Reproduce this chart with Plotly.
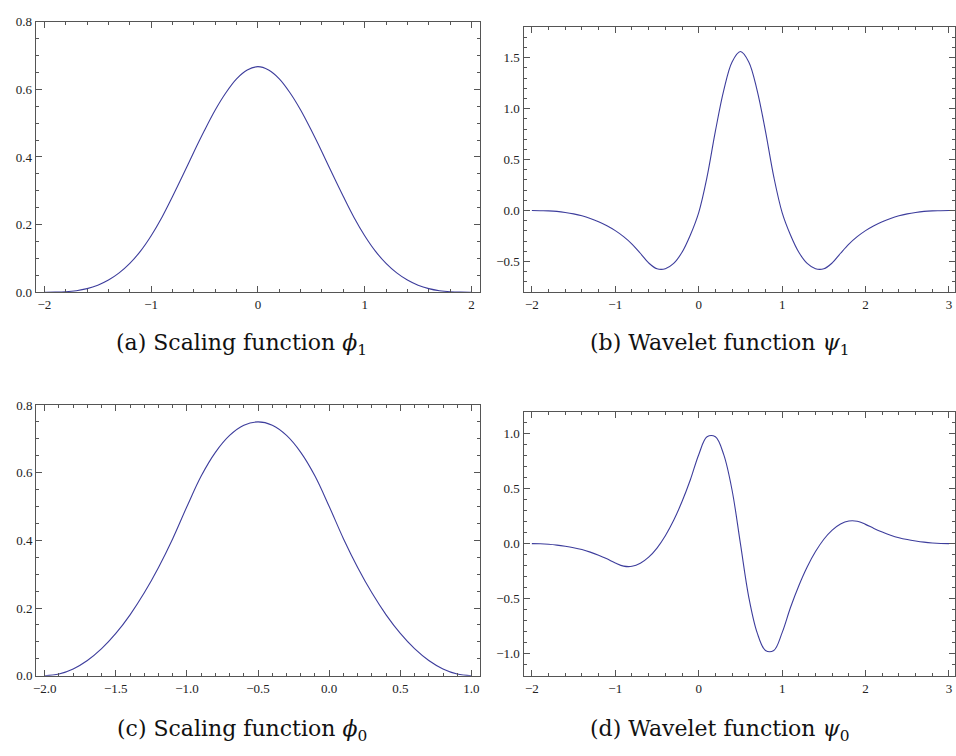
import plotly.graph_objects as go

# ---------------- data ----------------
# (a) scaling function phi_1
x_phi1 = [-2.0, -1.9, -1.8, -1.7, -1.6, -1.5, -1.4, -1.3, -1.2, -1.1, -1.0,
          -0.9, -0.8, -0.7, -0.6, -0.5, -0.4, -0.3, -0.2, -0.1, 0.0,
          0.1, 0.2, 0.3, 0.4, 0.5, 0.6, 0.7, 0.8, 0.9, 1.0,
          1.1, 1.2, 1.3, 1.4, 1.5, 1.6, 1.7, 1.8, 1.9, 2.0]
y_phi1 = [0.0, 0.0002, 0.0013, 0.0045, 0.0107, 0.0208, 0.036, 0.0572, 0.0853, 0.1215, 0.167,
          0.221, 0.283, 0.348, 0.415, 0.479, 0.539, 0.590, 0.631, 0.657, 0.667,
          0.657, 0.631, 0.590, 0.539, 0.479, 0.415, 0.348, 0.283, 0.221, 0.167,
          0.1215, 0.0853, 0.0572, 0.036, 0.0208, 0.0107, 0.0045, 0.0013, 0.0002, 0.0]

# (b) wavelet function psi_1
x_psi1 = [-2.0, -1.9, -1.8, -1.7, -1.6, -1.5, -1.4, -1.3, -1.2, -1.1, -1.0,
          -0.9, -0.8, -0.7, -0.6, -0.5, -0.4, -0.3, -0.2, -0.1, 0.0,
          0.1, 0.2, 0.3, 0.4, 0.5, 0.6, 0.7, 0.8, 0.9, 1.0,
          1.1, 1.2, 1.3, 1.4, 1.5, 1.6, 1.7, 1.8, 1.9, 2.0,
          2.1, 2.2, 2.3, 2.4, 2.5, 2.6, 2.7, 2.8, 2.9, 3.0]
y_psi1 = [0.0, -0.002, -0.004, -0.009, -0.019, -0.033, -0.052, -0.078, -0.111, -0.150, -0.198,
          -0.257, -0.330, -0.420, -0.515, -0.572, -0.572, -0.52, -0.41, -0.24, -0.02,
          0.33, 0.78, 1.18, 1.46, 1.562, 1.46, 1.18, 0.78, 0.33, -0.02,
          -0.24, -0.41, -0.52, -0.572, -0.572, -0.515, -0.420, -0.330, -0.257, -0.198,
          -0.150, -0.111, -0.078, -0.052, -0.033, -0.019, -0.009, -0.004, -0.002, 0.0]

# (c) scaling function phi_0
x_phi0 = [-2.0, -1.9, -1.8, -1.7, -1.6, -1.5, -1.4, -1.3, -1.2, -1.1, -1.0,
          -0.9, -0.8, -0.7, -0.6, -0.5, -0.4, -0.3, -0.2, -0.1, 0.0,
          0.1, 0.2, 0.3, 0.4, 0.5, 0.6, 0.7, 0.8, 0.9, 1.0]
y_phi0 = [0.0, 0.005, 0.02, 0.045, 0.08, 0.125, 0.18, 0.245, 0.32, 0.405, 0.5,
          0.59, 0.66, 0.71, 0.74, 0.75, 0.74, 0.71, 0.66, 0.59, 0.5,
          0.405, 0.32, 0.245, 0.18, 0.125, 0.08, 0.045, 0.02, 0.005, 0.0]

# (d) wavelet function psi_0
x_psi0 = [-2.0, -1.9, -1.8, -1.7, -1.6, -1.5, -1.4, -1.3, -1.2, -1.1, -1.0,
          -0.9, -0.8, -0.7, -0.6, -0.5, -0.4, -0.3, -0.2, -0.1, 0.0,
          0.1, 0.2, 0.3, 0.4, 0.5, 0.6, 0.7, 0.8, 0.9, 1.0,
          1.1, 1.2, 1.3, 1.4, 1.5, 1.6, 1.7, 1.8, 1.9, 2.0,
          2.1, 2.2, 2.3, 2.4, 2.5, 2.6, 2.7, 2.8, 2.9, 3.0]
y_psi0 = [0.0, -0.0015, -0.006, -0.0135, -0.024, -0.037, -0.054, -0.077, -0.105, -0.138, -0.175,
          -0.204, -0.206, -0.179, -0.123, -0.040, 0.072, 0.212, 0.382, 0.580, 0.808,
          0.970, 0.970, 0.808, 0.485, 0.0, -0.485, -0.808, -0.970, -0.970, -0.808,
          -0.580, -0.382, -0.212, -0.072, 0.040, 0.123, 0.179, 0.206, 0.204, 0.175,
          0.138, 0.105, 0.077, 0.054, 0.037, 0.024, 0.0135, 0.006, 0.0015, 0.0]

captions = ["(a) Scaling function <i>ϕ</i><sub>1</sub>",
            "(b) Wavelet function <i>ψ</i><sub>1</sub>",
            "(c) Scaling function <i>ϕ</i><sub>0</sub>",
            "(d) Wavelet function <i>ψ</i><sub>0</sub>"]

# ---------------- figure ----------------
W, H = 956, 756
LINE = "#3d3d9c"
FRAME = "#555555"
TICKFONT = dict(family="Liberation Serif", size=13, color="#222")
CAPFONT = dict(family="DejaVu Serif", size=22, color="#111")

panels = [
    dict(xd=(33, 479), yd=(15, 291), xr=(-2.08, 2.08), yr=(0, 0.8), xdt=1, xmn=0.2, ydt=0.2, ymn=0.05,
         xf="d", yf=".1f", data=(x_phi1, y_phi1)),
    dict(xd=(522.7, 956), yd=(20.7, 290.7), xr=(-2.1, 3.072), yr=(-0.8, 1.8), xdt=1, xmn=0.2, ydt=0.5, ymn=0.1,
         xf="d", yf=".1f", data=(x_psi1, y_psi1)),
    dict(xd=(33.3, 479), yd=(406, 682.3), xr=(-2.06, 1.06), yr=(0, 0.8), xdt=0.5, xmn=0.1, ydt=0.2, ymn=0.05,
         xf=".1f", yf=".1f", data=(x_phi0, y_phi0)),
    dict(xd=(522.7, 956), yd=(412.7, 682.3), xr=(-2.1, 3.072), yr=(-1.2, 1.2), xdt=1, xmn=0.2, ydt=0.5, ymn=0.1,
         xf="d", yf=".1f", data=(x_psi0, y_psi0)),
]

fig = go.Figure()
layout = dict(width=W, height=H, margin=dict(l=0, r=0, t=0, b=0),
              paper_bgcolor="white", plot_bgcolor="white", showlegend=False)

for i, p in enumerate(panels):
    n = "" if i == 0 else str(i + 1)
    xs, ys = p["data"]
    fig.add_trace(go.Scatter(x=xs, y=ys, mode="lines", xaxis="x" + n, yaxis="y" + n,
                             line=dict(color=LINE, width=1.1, shape="spline", smoothing=1.0),
                             hoverinfo="skip"))
    common = dict(showgrid=False, zeroline=False, showline=True, linecolor=FRAME, linewidth=1.3,
                  mirror="ticks", ticks="inside", tickcolor=FRAME, tickwidth=1,
                  ticklen=6, tickfont=TICKFONT, fixedrange=True)
    layout["xaxis" + n] = dict(common, domain=[p["xd"][0] / W, p["xd"][1] / W], range=list(p["xr"]),
                               anchor="y" + n, tick0=0, dtick=p["xdt"], tickformat=p["xf"],
                               minor=dict(dtick=p["xmn"], tick0=0, ticks="inside", ticklen=3,
                                          tickcolor=FRAME, tickwidth=1, showgrid=False))
    layout["yaxis" + n] = dict(common, domain=[1 - p["yd"][1] / H, 1 - p["yd"][0] / H], range=list(p["yr"]),
                               anchor="x" + n, tick0=0, dtick=p["ydt"], tickformat=p["yf"],
                               minor=dict(dtick=p["ymn"], tick0=0, ticks="inside", ticklen=3,
                                          tickcolor=FRAME, tickwidth=1, showgrid=False))

cap_pos = [(240, 344), (720, 344), (240, 738), (720, 738)]
annotations = []
for (cx, cy), txt in zip(cap_pos, captions):
    annotations.append(dict(x=cx / W, y=1 - cy / H, xref="paper", yref="paper", text=txt,
                            showarrow=False, xanchor="center", yanchor="middle", font=CAPFONT))
layout["annotations"] = annotations

fig.update_layout(**layout)
fig.write_html("out.html")
